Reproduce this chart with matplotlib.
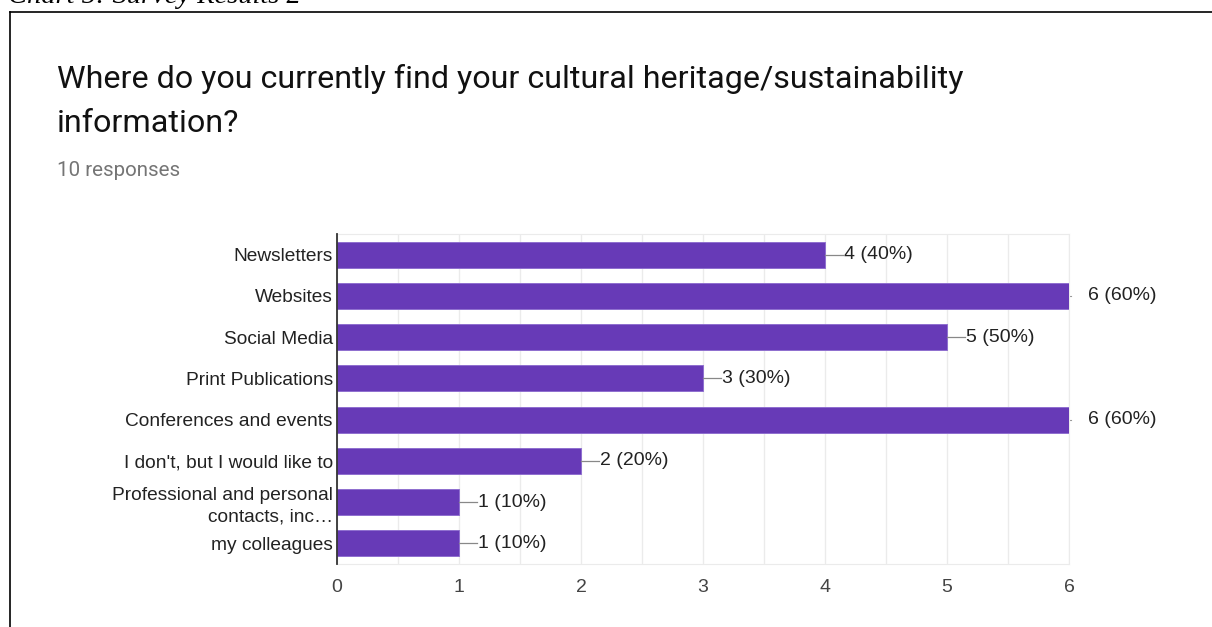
import matplotlib.pyplot as plt
from matplotlib.lines import Line2D

# survey answers, top to bottom
sources = ['Newsletters', 'Websites', 'Social Media', 'Print Publications',
           'Conferences and events', "I don't, but I would like to",
           'Professional and personal\ncontacts, inc\u2026', 'my colleagues']
counts = [4, 6, 5, 3, 6, 2, 1, 1]
percents = [40, 60, 50, 30, 60, 20, 10, 10]
x_ticks = [0, 1, 2, 3, 4, 5, 6]

W, H = 1212, 627
fig = plt.figure(figsize=(W / 100, H / 100), dpi=100)

# caption above the box (cut off by the page edge)
fig.text(8 / W, 1 - 3 / H, 'Chart 5: Survey Results 2', family='Liberation Serif',
         style='italic', fontsize=20.5, va='baseline', ha='left')

# frame around the form screenshot
fig.add_artist(Line2D([9.5 / W, 1], [1 - 12 / H, 1 - 12 / H], color='black', lw=1.2,
                      transform=fig.transFigure))
fig.add_artist(Line2D([9.5 / W, 9.5 / W], [0, 1 - 12 / H], color='black', lw=1.2,
                      transform=fig.transFigure))

fig.text(57 / W, 1 - 88 / H, 'Where do you currently find your cultural heritage/sustainability',
         family='Roboto', fontsize=23.2, va='baseline', color='#111111')
fig.text(57 / W, 1 - 132 / H, 'information?', family='Roboto', fontsize=23.2,
         va='baseline', color='#111111')
fig.text(57 / W, 1 - 176 / H, '10 responses', family='Roboto', fontsize=14.8,
         va='baseline', color='#757575')

ax = fig.add_axes([337 / W, 1 - 564 / H, (1069 - 337) / W, (564 - 234) / H])
y = list(range(len(sources)))
ax.barh(y, counts, height=0.63, color='#673ab7', edgecolor='#8f6fcf', linewidth=0.7, zorder=3)
ax.set_ylim(len(sources) - 0.5, -0.5)
ax.set_xlim(0, 6)

ax.set_xticks(x_ticks)
ax.set_xticks([v + 0.5 for v in x_ticks[:-1]], minor=True)
ax.grid(True, axis='x', which='both', color='#ebebeb', lw=1, zorder=0)
ax.tick_params(axis='x', which='both', length=0, pad=11, labelsize=14,
               labelcolor='#444444')
ax.tick_params(axis='y', length=0, pad=3, labelsize=13.8, labelcolor='#222222')
for lab in ax.get_xticklabels() + ax.get_yticklabels():
    lab.set_family('Liberation Sans')
ax.set_yticks(y)
ax.set_yticklabels(sources, linespacing=1.35)

for side in ('top', 'right', 'bottom'):
    ax.spines[side].set_color('#ebebeb')
ax.spines['left'].set_color('#333333')
ax.spines['left'].set_linewidth(1.3)
ax.spines['left'].set_zorder(4)

# value labels with the short grey leader line
px = 6 / (1069 - 337)
for i, (c, p) in enumerate(zip(counts, percents)):
    if c >= 6:
        ax.plot([c, c + 2 * px], [i, i], color='#999999', lw=0.8, clip_on=False)
    else:
        ax.plot([c, c + 18 * px], [i, i], color='#888888', lw=0.9, clip_on=False, zorder=4)
    ax.text(c + 19 * px, i, f'{c} ({p}%)', va='center', ha='left', fontsize=14,
            family='Liberation Sans', color='#222222', clip_on=False)

fig.savefig('out.png', dpi=100)
